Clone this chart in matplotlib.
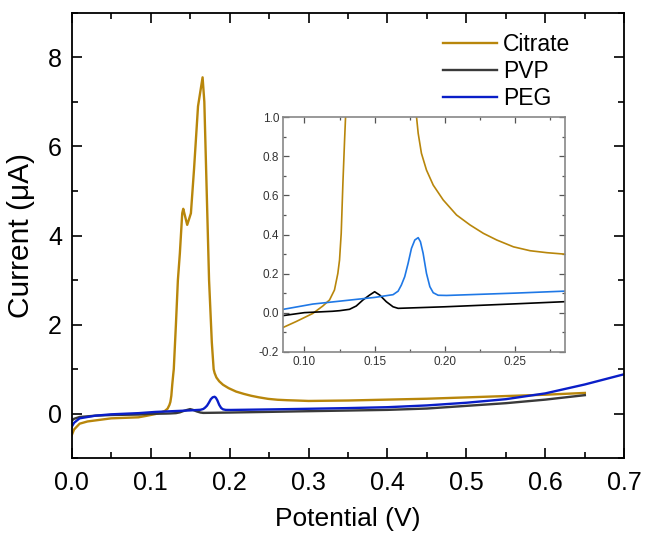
import matplotlib
matplotlib.use("Agg")
import matplotlib.pyplot as plt
from matplotlib.ticker import MultipleLocator, FormatStrFormatter

plt.rcParams['font.family'] = ['Liberation Sans', 'DejaVu Sans']

# ---- data (potential in V, current in uA) ----
citrate_x = [0.0, 0.003, 0.01, 0.02, 0.05, 0.0845, 0.094, 0.106, 0.1131, 0.1179, 0.1214,
             0.1238, 0.125, 0.1262, 0.1274, 0.1286, 0.1293, 0.132, 0.1345, 0.137, 0.14,
             0.1413, 0.1463, 0.151, 0.155, 0.16, 0.1658, 0.168, 0.171, 0.174, 0.1775,
             0.1798, 0.181, 0.1833, 0.1869, 0.1917, 0.1988, 0.2083, 0.2179, 0.2274,
             0.2369, 0.2488, 0.2607, 0.2726, 0.2845, 0.3, 0.35, 0.4, 0.45, 0.5, 0.55,
             0.6, 0.65]
citrate_y = [-0.48, -0.35, -0.22, -0.17, -0.1, -0.077, -0.046, -0.004, 0.034, 0.065, 0.116,
             0.201, 0.269, 0.406, 0.662, 0.884, 1.003, 2.0, 3.0, 3.6, 4.5,
             4.6, 4.24, 4.5, 5.5, 6.9, 7.55, 7.0, 5.0, 3.0, 1.6,
             1.003, 0.918, 0.816, 0.730, 0.653, 0.577, 0.500, 0.449, 0.406,
             0.372, 0.337, 0.317, 0.307, 0.300, 0.29, 0.30, 0.32, 0.34, 0.37, 0.40,
             0.43, 0.47]

pvp_x = [0.0, 0.003, 0.01, 0.03, 0.05, 0.085, 0.1, 0.12, 0.125, 0.1321, 0.1369, 0.1417,
         0.1464, 0.15, 0.1536, 0.1583, 0.1631, 0.1667, 0.2, 0.25, 0.285, 0.35, 0.4,
         0.45, 0.5, 0.55, 0.6, 0.65]
pvp_y = [-0.15, -0.11, -0.07, -0.04, -0.025, -0.015, 0.0, 0.007, 0.010, 0.017, 0.034, 0.065,
         0.090, 0.107, 0.090, 0.056, 0.030, 0.022, 0.03, 0.045, 0.056, 0.075, 0.09,
         0.12, 0.18, 0.24, 0.32, 0.42]

peg_x = [0.0, 0.003, 0.01, 0.03, 0.05, 0.085, 0.106, 0.15, 0.1631, 0.1667, 0.169,
         0.1714, 0.1738, 0.1762, 0.1786, 0.181, 0.1826, 0.1845, 0.1869, 0.1893, 0.1917,
         0.1952, 0.2012, 0.25, 0.285, 0.35, 0.4, 0.45, 0.5, 0.55, 0.6, 0.65, 0.7]
peg_y = [-0.29, -0.2, -0.1, -0.04, -0.01, 0.017, 0.044, 0.078, 0.092, 0.110, 0.141,
         0.184, 0.252, 0.329, 0.372, 0.384, 0.363, 0.304, 0.201, 0.133, 0.102,
         0.089, 0.088, 0.10, 0.11, 0.13, 0.15, 0.19, 0.25, 0.33, 0.46, 0.66, 0.89]

labels = ["Citrate", "PVP", "PEG"]
c_cit = "#B8860B"
c_pvp = "#3a3a3a"
c_peg = "#0a1ec8"
c_peg_in = "#1f78e6"

fig = plt.figure(figsize=(6.46, 5.40), dpi=100)
ax = fig.add_axes([0.111, 0.151, 0.8554, 0.8255])

ax.plot(citrate_x, citrate_y, color=c_cit, lw=1.7, label=labels[0])
ax.plot(pvp_x, pvp_y, color=c_pvp, lw=1.7, label=labels[1])
ax.plot(peg_x, peg_y, color=c_peg, lw=1.7, label=labels[2])

ax.set_xlim(0, 0.7)
ax.set_ylim(-1, 9)
ax.xaxis.set_major_locator(MultipleLocator(0.1))
ax.xaxis.set_minor_locator(MultipleLocator(0.05))
ax.yaxis.set_major_locator(MultipleLocator(2))
ax.yaxis.set_minor_locator(MultipleLocator(1))
ax.xaxis.set_major_formatter(FormatStrFormatter('%.1f'))
ax.tick_params(which='both', direction='in', top=True, right=True, width=1.2)
ax.tick_params(which='major', length=7, labelsize=18)
ax.tick_params(axis='x', which='major', pad=9)
ax.tick_params(axis='y', which='major', pad=7)
ax.tick_params(which='minor', length=4)
for s in ax.spines.values():
    s.set_linewidth(1.3)
ax.set_xlabel("Potential (V)", fontsize=19, labelpad=9)
ax.set_ylabel("Current (\u03bcA)", fontsize=21.5, labelpad=9)

leg = ax.legend(loc='upper left', bbox_to_anchor=(0.672, 0.954), frameon=False,
                fontsize=16.5, handlelength=2.35, handletextpad=0.26, labelspacing=0.18,
                borderaxespad=0.0, borderpad=0.0)

# ---- inset ----
axi = fig.add_axes([0.4386, 0.3487, 0.436, 0.434])
axi.plot(citrate_x, citrate_y, color=c_cit, lw=1.2)
axi.plot(pvp_x, pvp_y, color="black", lw=1.2)
axi.plot(peg_x, peg_y, color=c_peg_in, lw=1.2)
axi.set_xlim(0.085, 0.2855)
axi.set_ylim(-0.2, 1.0)
axi.xaxis.set_major_locator(MultipleLocator(0.05))
axi.xaxis.set_minor_locator(MultipleLocator(0.025))
axi.yaxis.set_major_locator(MultipleLocator(0.2))
axi.yaxis.set_minor_locator(MultipleLocator(0.1))
axi.xaxis.set_major_formatter(FormatStrFormatter('%.2f'))
axi.yaxis.set_major_formatter(FormatStrFormatter('%.1f'))
axi.tick_params(which='both', direction='in', top=True, right=True, width=0.9,
                colors='#555555', labelcolor='#333333')
axi.tick_params(which='major', length=4, labelsize=8.5, pad=3)
axi.tick_params(which='minor', length=2.5)
for s in axi.spines.values():
    s.set_linewidth(1.2)
    s.set_color('#888888')

fig.savefig("out.png", dpi=100)
